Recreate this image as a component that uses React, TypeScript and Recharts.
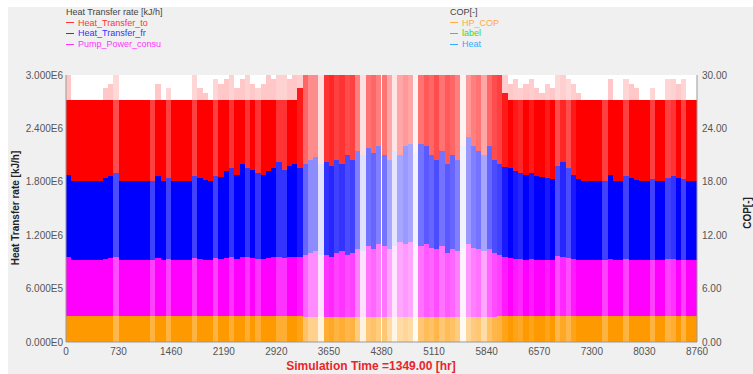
import { Bar, CartesianGrid, Cell, ComposedChart, XAxis, YAxis } from "recharts"

// Year simulation, hourly values summarised in 120 bins of 73 h.
const BIN_HOURS = 73

// share of hours in each bin where the heat pump is running (on/off operation)
const dutyFraction = [
  1, 1, 1, 1, 1, 1, 1, 1, 1, 0.7,
  1, 1, 1, 1, 1, 1, 0.75, 1, 1, 0.75,
  1, 1, 1, 1, 0.75, 1, 1, 1, 0.75, 1,
  1, 0.8, 1, 1, 0.8, 1, 0.8, 1, 1, 1,
  0.8, 0.8, 1, 1, 0.9, 0.6, 0.45, 0.45, 0.12, 0.8,
  0.85, 0.75, 0.8, 0.7, 0.75, 0.5, 0.12, 0.55, 0.6, 0.5,
  0.55, 0.35, 0.1, 0.35, 0.4, 0.35, 0.05, 0.55, 0.65, 0.6,
  0.7, 0.55, 0.65, 0.6, 0.5, 0.05, 0.4, 0.5, 0.55, 0.35,
  0.6, 0.7, 0.75, 0.9, 1, 0.9, 0.85, 1, 0.9, 1,
  1, 0.9, 1, 0.7, 0.85, 0.7, 0.9, 1, 1, 1,
  1, 1, 0.75, 1, 1, 1, 0.75, 1, 1, 1,
  1, 0.75, 1, 1, 0.75, 0.8, 1, 0.75, 1, 1,
]

// Heat_Transfer_to, usual level while running [MkJ/h]
const heatTransferTo = [
  2.72, 2.72, 2.72, 2.72, 2.72, 2.72, 2.72, 2.72, 2.72, 2.72,
  2.72, 2.72, 2.72, 2.72, 2.72, 2.72, 2.72, 2.72, 2.72, 2.72,
  2.72, 2.72, 2.72, 2.72, 2.72, 2.72, 2.72, 2.72, 2.72, 2.72,
  2.72, 2.72, 2.72, 2.72, 2.72, 2.72, 2.72, 2.72, 2.72, 2.72,
  2.72, 2.72, 2.72, 2.72, 2.85, 3.0, 3.0, 3.0, 3.0, 3.0,
  3.0, 3.0, 3.0, 3.0, 3.0, 3.0, 3.0, 3.0, 3.0, 3.0,
  3.0, 3.0, 3.0, 3.0, 3.0, 3.0, 3.0, 3.0, 3.0, 3.0,
  3.0, 3.0, 3.0, 3.0, 3.0, 3.0, 3.0, 3.0, 3.0, 3.0,
  3.0, 3.0, 3.0, 2.8, 2.72, 2.72, 2.72, 2.72, 2.72, 2.72,
  2.72, 2.72, 2.72, 2.72, 2.72, 2.72, 2.72, 2.72, 2.72, 2.72,
  2.72, 2.72, 2.72, 2.72, 2.72, 2.72, 2.72, 2.72, 2.72, 2.72,
  2.72, 2.72, 2.72, 2.72, 2.72, 2.72, 2.72, 2.72, 2.72, 2.72,
]

// Heat_Transfer_to, short peaks inside the bin [MkJ/h]
const heatTransferToPeak = [
  3.0, 2.72, 2.72, 2.72, 2.72, 2.72, 2.72, 2.85, 2.9, 3.0,
  2.72, 2.72, 2.72, 2.72, 2.72, 2.72, 2.72, 2.9, 2.72, 2.85,
  2.72, 2.72, 2.72, 2.72, 3.0, 2.85, 2.8, 2.72, 2.95, 2.9,
  2.95, 3.0, 2.85, 2.95, 3.0, 2.9, 2.85, 2.9, 3.0, 2.95,
  3.0, 3.0, 2.95, 3.0, 3.0, 3.0, 3.0, 3.0, 3.0, 3.0,
  3.0, 3.0, 3.0, 3.0, 3.0, 3.0, 3.0, 3.0, 3.0, 3.0,
  3.0, 3.0, 3.0, 3.0, 3.0, 3.0, 3.0, 3.0, 3.0, 3.0,
  3.0, 3.0, 3.0, 3.0, 3.0, 3.0, 3.0, 3.0, 3.0, 3.0,
  3.0, 3.0, 3.0, 3.0, 2.9, 2.95, 2.85, 2.9, 2.95, 2.85,
  2.8, 2.9, 2.85, 3.0, 3.0, 2.95, 2.9, 2.8, 2.72, 2.72,
  2.72, 2.72, 2.72, 2.95, 2.72, 2.72, 2.95, 2.9, 2.85, 2.72,
  2.72, 2.85, 2.72, 2.72, 2.95, 2.95, 2.9, 2.95, 2.72, 2.72,
]

// Heat_Transfer_fr [MkJ/h]
const heatTransferFr = [
  1.88, 1.81, 1.81, 1.81, 1.81, 1.81, 1.81, 1.84, 1.86, 1.9,
  1.81, 1.81, 1.81, 1.81, 1.81, 1.81, 1.81, 1.86, 1.81, 1.84,
  1.81, 1.81, 1.81, 1.81, 1.86, 1.84, 1.82, 1.81, 1.86, 1.85,
  1.92, 1.95, 1.88, 2.0, 1.96, 1.93, 1.9, 1.88, 1.92, 1.95,
  2.02, 1.93, 1.98, 2.0, 1.95, 2.0, 2.05, 2.08, 2.0, 2.02,
  1.98, 2.05, 2.0, 2.1, 2.05, 2.15, 2.1, 2.18, 2.12, 2.2,
  2.1, 2.05, 2.15, 2.1, 2.2, 2.22, 2.15, 2.22, 2.2, 2.1,
  2.05, 2.15, 2.0, 2.1, 2.05, 2.2, 2.3, 2.2, 2.15, 2.1,
  2.2, 2.05, 2.0, 1.97, 1.95, 1.92, 1.9, 1.88, 1.9, 1.86,
  1.85, 1.84, 1.83, 1.98, 2.02, 1.95, 1.88, 1.83, 1.81, 1.81,
  1.81, 1.81, 1.81, 1.88, 1.81, 1.81, 1.86, 1.84, 1.82, 1.81,
  1.81, 1.83, 1.81, 1.81, 1.84, 1.86, 1.84, 1.83, 1.81, 1.81,
]

// Pump_Power_consu [MkJ/h]
const pumpPowerConsu = [
  0.95, 0.92, 0.92, 0.92, 0.92, 0.92, 0.92, 0.93, 0.94, 0.95,
  0.92, 0.92, 0.92, 0.92, 0.92, 0.92, 0.92, 0.94, 0.92, 0.93,
  0.92, 0.92, 0.92, 0.92, 0.94, 0.93, 0.92, 0.92, 0.94, 0.93,
  0.94, 0.95, 0.93, 0.96, 0.95, 0.94, 0.93, 0.93, 0.94, 0.95,
  0.96, 0.94, 0.95, 0.96, 0.95, 0.98, 1.0, 1.02, 0.98, 0.98,
  0.96, 1.0, 1.02, 0.98, 1.0, 1.05, 1.02, 1.08, 1.05, 1.1,
  1.08, 1.05, 1.08, 1.12, 1.1, 1.12, 1.1, 1.08, 1.1, 1.06,
  1.04, 1.08, 1.0, 1.05, 1.02, 1.06, 1.1, 1.06, 1.04, 1.02,
  1.05, 1.0, 0.98, 0.95, 0.94, 0.93, 0.93, 0.92, 0.93, 0.92,
  0.92, 0.92, 0.92, 0.97, 0.96, 0.94, 0.93, 0.92, 0.92, 0.92,
  0.92, 0.92, 0.92, 0.93, 0.92, 0.92, 0.93, 0.92, 0.92, 0.92,
  0.92, 0.92, 0.92, 0.92, 0.93, 0.93, 0.92, 0.92, 0.92, 0.92,
]

// HP_COP [-]
const hpCop = [
  2.9, 2.9, 2.9, 2.9, 2.9, 2.9, 2.9, 2.9, 2.9, 2.9,
  2.9, 2.9, 2.9, 2.9, 2.9, 2.9, 2.9, 2.9, 2.9, 2.9,
  2.9, 2.9, 2.9, 2.9, 2.9, 2.9, 2.9, 2.9, 2.9, 2.9,
  2.9, 2.9, 2.9, 2.9, 2.9, 2.9, 2.9, 2.9, 2.9, 2.9,
  2.9, 2.9, 2.9, 2.9, 2.9, 2.85, 2.85, 2.85, 2.9, 2.85,
  2.85, 2.85, 2.85, 2.85, 2.85, 2.8, 2.85, 2.8, 2.8, 2.8,
  2.8, 2.85, 2.8, 2.8, 2.8, 2.8, 2.85, 2.8, 2.8, 2.8,
  2.85, 2.8, 2.85, 2.8, 2.85, 2.85, 2.8, 2.8, 2.85, 2.85,
  2.85, 2.85, 2.9, 2.9, 2.9, 2.9, 2.9, 2.9, 2.9, 2.9,
  2.9, 2.9, 2.9, 2.9, 2.9, 2.9, 2.9, 2.9, 2.9, 2.9,
  2.9, 2.9, 2.9, 2.9, 2.9, 2.9, 2.9, 2.9, 2.9, 2.9,
  2.9, 2.9, 2.9, 2.9, 2.9, 2.9, 2.9, 2.9, 2.9, 2.9,
]

const timeTicks = [0, 730, 1460, 2190, 2920, 3650, 4380, 5110, 5840, 6570, 7300, 8030, 8760]
const heatTicks = [0, 600000, 1200000, 1800000, 2400000, 3000000]
const copTicks = [0, 6, 12, 18, 24, 30]

const leftLegend = [
  { name: "Heat_Transfer_to", color: "#ff3333" },
  { name: "Heat_Transfer_fr", color: "#3333ff" },
  { name: "Pump_Power_consu", color: "#ff33ff" },
]
const rightLegend = [
  { name: "HP_COP", color: "#ffaa44" },
  { name: "label", color: "#33dd33" },
  { name: "Heat", color: "#33aaff" },
]

const HEAT_MAX = 3000000
const COP_MAX = 30
const MEGA = 1000000
const FONT = '"Liberation Sans", Arial, sans-serif'

// every hour is drawn from 0 up, so the curves hide each other: stack the visible bands.
// the orange COP band lives on the right axis (0..30 lines up with 0..3E6),
// copBase just keeps its height free in the left stack.
const data = dutyFraction.map((duty, i) => {
  const pump = pumpPowerConsu[i] * MEGA
  const fr = heatTransferFr[i] * MEGA
  const to = heatTransferTo[i] * MEGA
  const peak = heatTransferToPeak[i] * MEGA
  const copBase = hpCop[i] * (HEAT_MAX / COP_MAX)
  return {
    time: i * BIN_HOURS + BIN_HOURS / 2,
    duty,
    cop: hpCop[i],
    copBase,
    pumpBand: pump - copBase,
    frBand: fr - pump,
    toBand: to - fr,
    peakBand: peak - to,
  }
})

const bands = [
  { key: "copBase", color: "#ff9900", alpha: 0 },
  { key: "pumpBand", color: "#ff00ff", alpha: 1 },
  { key: "frBand", color: "#0000ff", alpha: 1 },
  { key: "toBand", color: "#ff0000", alpha: 1 },
  { key: "peakBand", color: "#ff0000", alpha: 0.22 },
]

const sci = (v: number) => {
  if (v === 0) return "0.000E0"
  const e = Math.floor(Math.log10(v))
  return `${(v / 10 ** e).toFixed(3)}E${e}`
}

const tickStyle = { fill: "#555", fontSize: 10, fontFamily: FONT }

function LegendBlock({ x, title, items }: { x: number; title: string; items: { name: string; color: string }[] }) {
  return (
    <div style={{ position: "absolute", left: x, top: 7, fontSize: 9, lineHeight: "10.6px", whiteSpace: "nowrap" }}>
      <div style={{ color: "#444" }}>{title}</div>
      {items.map((it) => (
        <div key={it.name} style={{ color: it.color, display: "flex", alignItems: "center" }}>
          <span style={{ display: "inline-block", width: 8, height: 1, background: it.color, marginRight: 4 }} />
          {it.name}
        </div>
      ))}
    </div>
  )
}

export default function App() {
  return (
    <div
      style={{
        position: "absolute",
        left: 0,
        top: 0,
        width: 753,
        height: 374,
        background: "#fff",
        fontFamily: FONT,
        overflow: "hidden",
      }}
    >
      <style>{".recharts-rectangle{shape-rendering:crispEdges}"}</style>
      <div style={{ position: "absolute", left: 8, top: 7, right: 0, bottom: 0, background: "#f0f0f0" }} />
      <div style={{ position: "absolute", left: 0, top: 0 }}>
        <ComposedChart
          width={753}
          height={374}
          data={data}
          margin={{ top: 75, right: 0, bottom: 0, left: 0 }}
          barCategoryGap={0}
          barGap={0}
        >
          <CartesianGrid horizontal={false} vertical={false} fill="#fff" yAxisId="left" />
          <XAxis
            dataKey="time"
            type="number"
            domain={[0, 8760]}
            ticks={timeTicks}
            interval={0}
            height={32}
            tickLine={false}
            tickSize={0}
            tickMargin={6}
            axisLine={{ stroke: "#999" }}
            tick={tickStyle}
          />
          <XAxis xAxisId="copx" dataKey="time" type="number" domain={[0, 8760]} hide />
          <XAxis
            xAxisId="frame"
            orientation="top"
            type="number"
            domain={[0, 8760]}
            height={0}
            tick={false}
            tickLine={false}
            axisLine={{ stroke: "#aaa" }}
          />
          <YAxis
            yAxisId="left"
            width={66}
            domain={[0, HEAT_MAX]}
            ticks={heatTicks}
            interval={0}
            tickFormatter={sci}
            tickLine={false}
            tickSize={0}
            tickMargin={3}
            axisLine={{ stroke: "#999" }}
            tick={tickStyle}
          />
          <YAxis
            yAxisId="right"
            orientation="right"
            width={56}
            domain={[0, COP_MAX]}
            ticks={copTicks}
            interval={0}
            tickFormatter={(v: number) => v.toFixed(2)}
            tickLine={false}
            tickSize={0}
            tickMargin={5}
            axisLine={{ stroke: "#999" }}
            tick={tickStyle}
          />
          {bands.map((b) => (
            <Bar
              key={b.key}
              dataKey={b.key}
              yAxisId="left"
              stackId="hp"
              fill={b.color}
              barSize={5.25}
              isAnimationActive={false}
            >
              {data.map((d, i) => (
                <Cell key={i} fillOpacity={d.duty * b.alpha} />
              ))}
            </Bar>
          ))}
          <Bar
            dataKey="cop"
            xAxisId="copx"
            yAxisId="right"
            fill="#ff9900"
            barSize={5.25}
            isAnimationActive={false}
          >
            {data.map((d, i) => (
              <Cell key={i} fillOpacity={d.duty} />
            ))}
          </Bar>
        </ComposedChart>
      </div>

      <LegendBlock x={66} title="Heat Transfer rate [kJ/h]" items={leftLegend} />
      <LegendBlock x={450} title="COP[-]" items={rightLegend} />

      <div
        style={{
          position: "absolute",
          left: 15,
          top: 208,
          transform: "translate(-50%, -50%) rotate(-90deg)",
          fontSize: 10,
          fontWeight: "bold",
          color: "#222",
          whiteSpace: "nowrap",
        }}
      >
        Heat Transfer rate [kJ/h]
      </div>
      <div
        style={{
          position: "absolute",
          left: 747,
          top: 213,
          transform: "translate(-50%, -50%) rotate(-90deg)",
          fontSize: 10,
          fontWeight: "bold",
          color: "#222",
          whiteSpace: "nowrap",
        }}
      >
        COP[-]
      </div>
      <div
        style={{
          position: "absolute",
          left: 371,
          top: 366,
          transform: "translate(-50%, -50%)",
          fontSize: 12,
          fontWeight: "bold",
          color: "#e8262c",
          whiteSpace: "nowrap",
        }}
      >
        Simulation Time =1349.00 [hr]
      </div>
    </div>
  )
}
